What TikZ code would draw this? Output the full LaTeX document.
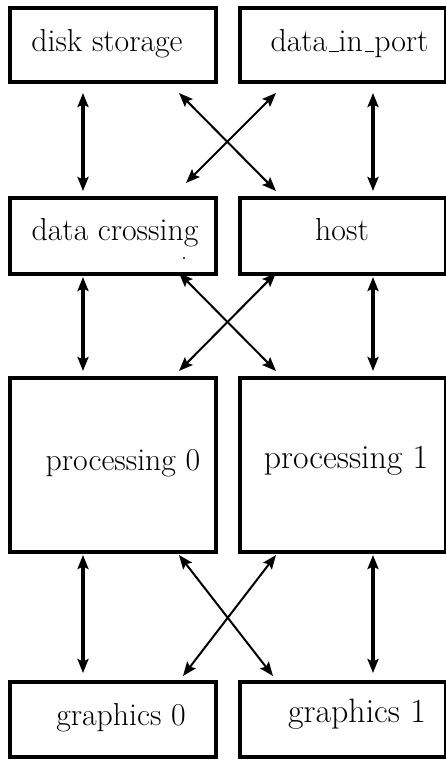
\documentclass[tikz,border=0pt]{standalone}
\usetikzlibrary{arrows.meta,calc}
\newcommand\uscore{\leavevmode\kern.06em\vbox{\hrule width.3em height .045em}}
\begin{document}
\begin{tikzpicture}[x=1pt,y=-1pt,
  box/.style={draw,line width=4pt,inner sep=0pt,outer sep=0pt},
  lbl/.style={anchor=base,inner sep=0pt,font=\fontsize{31.8}{36}\selectfont},
  lblb/.style={anchor=base,inner sep=0pt,font=\fontsize{33.8}{38}\selectfont},
  vlink/.style={line width=3.2pt,{Stealth[length=14pt,width=11pt,inset=2.5pt]}-{Stealth[length=14pt,width=11pt,inset=2.5pt]}},
  dlink/.style={line width=2pt,{Stealth[length=14pt,width=11pt,inset=2.5pt]}-{Stealth[length=14pt,width=11pt,inset=2.5pt]}}]
\useasboundingbox (0,0) rectangle (446,760);
% boxes
\node[box,minimum width=206pt,minimum height=74pt] (ds) at (113,45) {};
\node[box,minimum width=206pt,minimum height=74pt] (dp) at (342.5,45) {};
\node[box,minimum width=206pt,minimum height=76pt] (dc) at (113,235.5) {};
\node[box,minimum width=206pt,minimum height=76pt] (ho) at (342.5,235.5) {};
\node[box,minimum width=206pt,minimum height=174pt] (p0) at (113,464.5) {};
\node[box,minimum width=206pt,minimum height=174pt] (p1) at (342.5,464.5) {};
\node[box,minimum width=206pt,minimum height=75pt] (g0) at (113,719) {};
\node[box,minimum width=206pt,minimum height=75pt] (g1) at (342.5,719) {};
% labels
\node[lbl] (tds) at (107,52) {disk storage};
\node[lbl] (tdp) at (349.5,52) {data\uscore in\uscore port};
\node[lbl] (tdc) at (115,240) {data crossing};
\node[lbl] (tho) at (342,240) {host};
\node[lbl] (tp0) at (123,470) {processing 0};
\node[lblb] (tp1) at (346,468) {processing 1};
\node[lbl] (tg0) at (121,725) {graphics 0};
\node[lblb] (tg1) at (357,722) {graphics 1};
\fill (184,258) circle (1.2pt);
% link endpoints
\coordinate (a1) at (83,93);   \coordinate (a2) at (83,191);
\coordinate (b1) at (373,93);  \coordinate (b2) at (373,191);
\coordinate (c1) at (179,93);  \coordinate (c2) at (276,191);
\coordinate (d1) at (276,93);  \coordinate (d2) at (186,183);
\coordinate (e1) at (83,277);  \coordinate (e2) at (83,371);
\coordinate (f1) at (373,277); \coordinate (f2) at (373,371);
\coordinate (h1) at (179,273); \coordinate (h2) at (276,371);
\coordinate (k1) at (276,273); \coordinate (k2) at (179,371);
\coordinate (m1) at (83,555);  \coordinate (m2) at (83,673);
\coordinate (n1) at (373,555); \coordinate (n2) at (373,673);
\coordinate (q1) at (179,555); \coordinate (q2) at (273,676);
\coordinate (r1) at (276,555); \coordinate (r2) at (183,676);
\draw[vlink] (a1) -- (a2);
\draw[vlink] (b1) -- (b2);
\draw[dlink] (c1) -- (c2);
\draw[dlink] (d1) -- (d2);
\draw[vlink] (e1) -- (e2);
\draw[vlink] (f1) -- (f2);
\draw[dlink] (h1) -- (h2);
\draw[dlink] (k1) -- (k2);
\draw[vlink] (m1) -- (m2);
\draw[vlink] (n1) -- (n2);
\draw[dlink] (q1) -- (q2);
\draw[dlink] (r1) -- (r2);
\end{tikzpicture}
\end{document}
